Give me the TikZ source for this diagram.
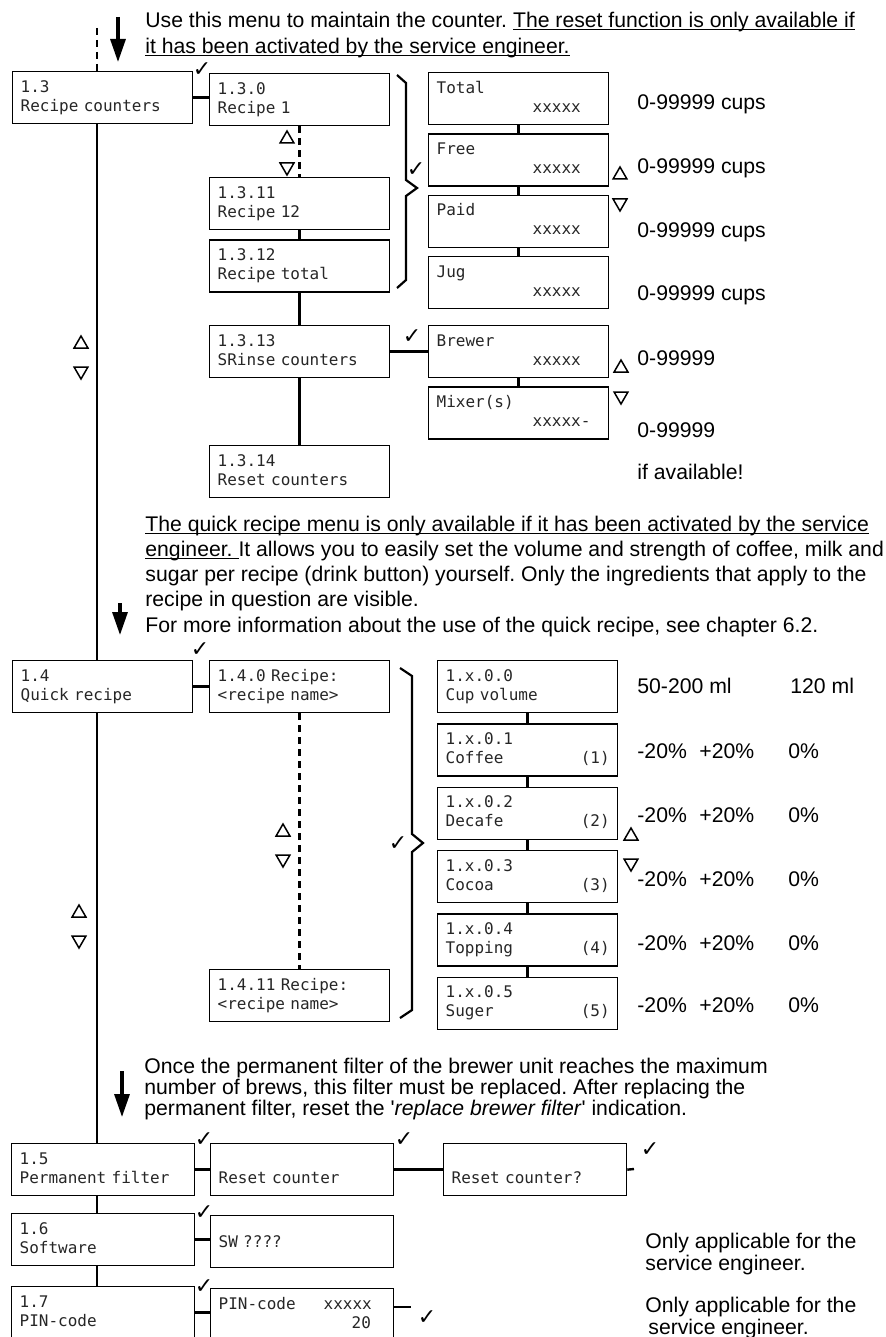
\documentclass[tikz,border=0pt]{standalone}
\usepackage{fontspec}
\setmainfont{Liberation Sans}
\newfontfamily\lcdfont{DejaVu Sans Mono}
\newfontfamily\symfont{DejaVu Sans}
\usetikzlibrary{arrows.meta, positioning, shapes.geometric}

\newsavebox\undlbox
\newcommand{\undl}[1]{\sbox\undlbox{#1}\rlap{\rule[-1.4pt]{\wd\undlbox}{0.55pt}}\usebox\undlbox}

\begin{document}
\frenchspacing
\begin{tikzpicture}[
        x=0.5pt, y=-0.5pt,
        node distance=4pt,
        disp/.style={rectangle, draw, line width=0.65pt, anchor=north west, minimum width=90pt, minimum height=26pt, text width=82pt, inner xsep=4pt, inner ysep=0pt, align=left, font=\lcdfont\fontsize{8}{9.5}\selectfont, text=black!85, text height=6pt, text depth=11.5pt},
        wide/.style={minimum width=91.5pt, text width=83.5pt},
        conn/.style={line width=1.2pt},
        dsh/.style={conn, dash pattern=on 3.5pt off 2.5pt},
        brace/.style={line width=1.1pt},
        arr/.style={-{Triangle[length=11.5pt, width=7.5pt]}, line width=1.6pt},
        tup/.style={regular polygon, regular polygon sides=3, draw, line width=0.75pt, inner sep=0pt, minimum size=8pt},
        tdn/.style={tup, shape border rotate=180},
        tick/.style={font=\symfont\fontsize{11}{11}\selectfont, inner sep=0pt},
        val/.style={anchor=base west, inner sep=0pt, font=\fontsize{10.6}{12.6}\selectfont},
        note/.style={anchor=base west, inner sep=0pt, align=left, font=\fontsize{10.6}{13}\selectfont},
    ]
        \useasboundingbox (0,0) rectangle (886,1337);
        \clip (0,0) rectangle (886,1337);
        \coordinate (spine) at (97,0);

        % Recipe counters (base of a note = its last line)
        \coordinate (entry) at (97,28);
        \coordinate (a1s) at (118,17);
        \coordinate (a1e) at (118,62);
        \node[note] (intro) at (145,53.3) {Use this menu to maintain the counter. \undl{The reset function is only available if}\\\undl{it has been activated by the service engineer.}};

        \node[disp] (m13) at (12,71) {1.3\\Recipe counters};
        \node[disp] (r0) at (209,73) {1.3.0\\Recipe 1};
        \node[disp] (r11) at (209,177) {1.3.11\\Recipe 12};
        \node[disp, below=4.5pt of r11] (rtot) {1.3.12\\Recipe total};
        \node[disp] (rinse) at (209,325) {1.3.13\\SRinse counters};
        \node[disp] (rreset) at (209,445) {1.3.14\\Reset counters};

        \node[disp] (tot) at (428,72) {Total\\\hspace*{48pt}xxxxx};
        \node[disp, below=of tot] (free) {Free\\\hspace*{48pt}xxxxx};
        \node[disp, below=of free] (paid) {Paid\\\hspace*{48pt}xxxxx};
        \node[disp, below=of paid] (jug) {Jug\\\hspace*{48pt}xxxxx};
        \node[disp] (brew) at (428,325) {Brewer\\\hspace*{48pt}xxxxx};
        \node[disp, below=of brew] (mix) {Mixer(s)\\\hspace*{48pt}xxxxx-};

        \node[val] (vtot) at (637,109.6) {0-99999 cups};
        \node[val] (vfree) at (637,173.6) {0-99999 cups};
        \node[val] (vpaid) at (637,237.6) {0-99999 cups};
        \node[val] (vjug) at (637,300.6) {0-99999 cups};
        \node[val] (vbrew) at (637,365.6) {0-99999};
        \node[val] (vmix) at (637,437.6) {0-99999};
        \node[val] (vavail) at (637,479) {if available!};

        \node[tick] (c13) at (202,70) {✓};
        \node[tick] (cbr1) at (416,170) {✓};
        \node[tick] (crin) at (412,337) {✓};

        \node[tup] (u1) at (287,139) {};
        \node[tdn] (d1) at (287,167) {};
        \node[tup] (u2) at (620,175) {};
        \node[tdn] (d2) at (620,203) {};
        \node[tup] (u3) at (81,344) {};
        \node[tdn] (d3) at (81,371) {};
        \node[tup] (u4) at (621,368) {};
        \node[tdn] (d4) at (621,396) {};

        \draw[arr] (a1s) -- (a1e);
        \draw[dsh] (entry) -- (m13.north -| entry);
        \draw[conn] (m13.east) -- (m13.east -| r0.west);
        \draw[dsh] (r0.south) -- (r11.north);
        \draw[conn] (r11.south) -- (rtot.north);
        \draw[conn] (rtot.south) -- (rinse.north);
        \draw[conn] (rinse.south) -- (rreset.north);
        \draw[conn] (tot) -- (free);
        \draw[conn] (free) -- (paid);
        \draw[conn] (paid) -- (jug);
        \draw[conn] (rinse.east) -- (rinse.east -| brew.west);
        \draw[conn] (brew) -- (mix);
        \draw[brace] (397,75) -- (406,83) -- (406,180) -- (417,188) -- (406,196) -- (406,280) -- (397,288);

        % Quick recipe
        \coordinate (a2s) at (120,603);
        \coordinate (a2e) at (120,635);
        \node[note, font=\fontsize{10.6}{12.6}\selectfont] (qnote) at (145,632) {\undl{The quick recipe menu is only available if it has been activated by the service}\\\undl{engineer.\ }It allows you to easily set the volume and strength of coffee, milk and\\sugar per recipe (drink button) yourself. Only the ingredients that apply to the\\recipe in question are visible.\\For more information about the use of the quick recipe, see chapter 6.2.};

        \node[disp] (m14) at (12,660) {1.4\\Quick recipe};
        \node[disp] (q0) at (209,660) {1.4.0 Recipe:\\<recipe name>};
        \node[disp] (q11) at (209,969) {1.4.11 Recipe:\\<recipe name>};

        \node[disp] (cup) at (437,660) {1.x.0.0\\Cup volume};
        \node[disp, below=5pt of cup] (cof) {1.x.0.1\\Coffee\hfill(1)};
        \node[disp, below=5pt of cof] (dec) {1.x.0.2\\Decafe\hfill(2)};
        \node[disp, below=5pt of dec] (coc) {1.x.0.3\\Cocoa\hfill(3)};
        \node[disp, below=5pt of coc] (top) {1.x.0.4\\Topping\hfill(4)};
        \node[disp, below=5pt of top] (sug) {1.x.0.5\\Suger\hfill(5)};

        \node[val] (vcup) at (637,693.6) {50-200 ml};
        \node[val] (dcup) at (790,693.6) {120 ml};
        \node[val] (lcof) at (637,758.6) {-20\%};
        \node[val] (hcof) at (699,758.6) {+20\%};
        \node[val] (dcof) at (788,758.6) {0\%};
        \node[val] (ldec) at (637,822.6) {-20\%};
        \node[val] (hdec) at (699,822.6) {+20\%};
        \node[val] (ddec) at (788,822.6) {0\%};
        \node[val] (lcoc) at (637,886.6) {-20\%};
        \node[val] (hcoc) at (699,886.6) {+20\%};
        \node[val] (dcoc) at (788,886.6) {0\%};
        \node[val] (ltop) at (637,950.6) {-20\%};
        \node[val] (htop) at (699,950.6) {+20\%};
        \node[val] (dtop) at (788,950.6) {0\%};
        \node[val] (lsug) at (637,1012.6) {-20\%};
        \node[val] (hsug) at (699,1012.6) {+20\%};
        \node[val] (dsug) at (788,1012.6) {0\%};

        \node[tick] (c14) at (200,650) {✓};
        \node[tick] (cbr2) at (398,844) {✓};

        \node[tup] (u5) at (283,832) {};
        \node[tdn] (d5) at (283,859) {};
        \node[tup] (u6) at (79,913) {};
        \node[tdn] (d6) at (79,940) {};
        \node[tup] (u7) at (631,836) {};
        \node[tdn] (d7) at (631,863) {};

        \draw[arr] (a2s) -- (a2e);
        \draw[conn] (m13.south -| spine) -- (m14.north -| spine);
        \draw[conn] (m14.east) -- (q0.west);
        \draw[dsh] (q0.south) -- (q11.north);
        \draw[conn] (cup) -- (cof);
        \draw[conn] (cof) -- (dec);
        \draw[conn] (dec) -- (coc);
        \draw[conn] (coc) -- (top);
        \draw[conn] (top) -- (sug);
        \draw[brace] (400,668) -- (412,676) -- (412,834) -- (423,843) -- (412,852) -- (412,1010) -- (400,1018);

        % Permanent filter, software, PIN-code
        \coordinate (a3s) at (122,1071);
        \coordinate (a3e) at (122,1117);
        \node[note, font=\fontsize{10.6}{10.3}\selectfont] (fnote) at (144,1115) {Once the permanent filter of the brewer unit reaches the maximum\\number of brews, this filter must be replaced. After replacing the\\permanent filter, reset the \textquotesingle\textit{replace brewer filter}\textquotesingle\ indication.};

        \node[disp, wide] (m15) at (11,1143) {1.5\\Permanent filter};
        \node[disp, wide] (rc) at (210,1143) {\mbox{}\\Reset counter};
        \node[disp, wide] (rcq) at (443,1143) {\mbox{}\\Reset counter?};
        \node[disp, wide] (m16) at (11,1213) {1.6\\Software};
        \node[disp, wide, text depth=0pt] (sw) at (210,1215) {SW ????};
        \node[disp, wide] (m17) at (11,1286) {1.7\\PIN-code};
        \node[disp, wide] (pin) at (210,1288) {PIN-code\hspace*{14pt}xxxxx\\\hspace*{66.5pt}20};
        \coordinate (rcqend) at (634,1169);
        \coordinate (pinend) at (411,1307);

        \node[tick] (c15) at (204,1140) {✓};
        \node[tick] (crc) at (404,1140) {✓};
        \node[tick] (crcq) at (650,1150) {✓};
        \node[tick] (c16) at (204,1213) {✓};
        \node[tick] (c17) at (204,1287) {✓};
        \node[tick] (cpin) at (427,1318) {✓};

        \node[note, font=\fontsize{10.6}{11}\selectfont] (svc1) at (645,1270) {Only applicable for the\\service engineer.};
        \node[note, font=\fontsize{10.6}{11}\selectfont] (svc2) at (645,1334) {Only applicable for the\\\hspace*{1.5pt}service engineer.};

        \draw[arr] (a3s) -- (a3e);
        \draw[conn] (m14.south -| spine) -- (m15.north -| spine);
        \draw[conn] (m15.south -| spine) -- (m16.north -| spine);
        \draw[conn] (m16.south -| spine) -- (m17.north -| spine);
        \draw[conn] (m15.east) -- (rc.west);
        \draw[conn] (rc.east) -- (rcq.west);
        \draw[conn] (rcq.east) -- (rcqend);
        \draw[conn] (m16.east) -- (m16.east -| sw.west);
        \draw[conn] (m17.east) -- (m17.east -| pin.west);
        \draw[conn] (pin.east |- pinend) -- (pinend);
    \end{tikzpicture}
\end{document}
